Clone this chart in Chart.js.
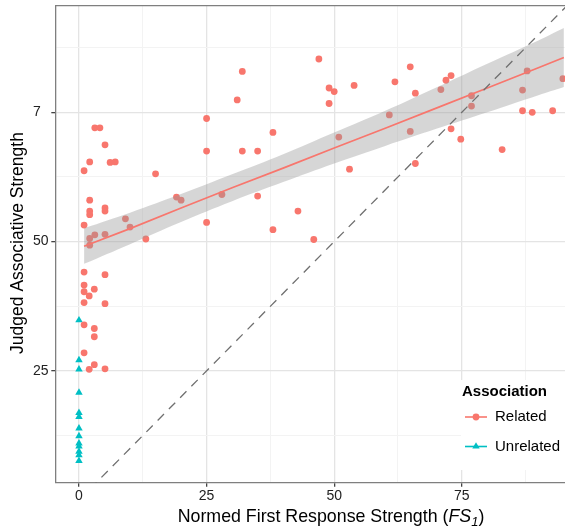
<!DOCTYPE html>
<html>
<head>
<meta charset="utf-8">
<title>Judged vs Normed Associative Strength</title>
<script src="https://cdn.jsdelivr.net/npm/chart.js"></script>
<style>
  body { margin: 0; background: #fff; }
  #chart { display: block; }
</style>
</head>
<body>
<canvas id="chart" width="565" height="529"></canvas>
<script>
// Related pairs (circles)
const relatedX = [3.1, 4.1, 5.1, 2.1, 6.1, 7.1, 1.0, 15.0, 2.1, 2.1, 2.1, 5.1, 5.1, 19.1, 20.0, 1.0, 9.1, 10.0, 2.1, 3.1,
                  5.1, 2.1, 13.1, 1.0, 5.1, 1.0, 1.0, 3.0, 2.0, 1.0, 5.1, 1.0, 3.0, 3.0, 1.0, 2.0, 3.0, 5.1,
                  47.0, 32.0, 31.0, 49.0, 50.0, 53.9, 49.0, 25.0, 38.0, 25.0, 32.0, 35.0, 50.9, 60.8, 53.0, 28.0, 35.0, 42.9, 25.0, 38.0, 46.0,
                  64.9, 61.9, 65.9, 71.9, 72.9, 70.9, 64.9, 76.9, 76.9, 72.9, 74.8, 65.9, 82.9, 87.8, 86.9, 86.9, 88.8, 92.8, 94.8];
const relatedY = [72.0, 72.0, 68.7, 65.4, 65.3, 65.4, 63.7, 63.1, 58.0, 55.9, 55.2, 56.5, 55.9, 58.6, 58.0, 53.2, 54.4, 52.8, 50.6, 51.3,
                  51.4, 49.3, 50.5, 44.1, 43.6, 41.6, 40.3, 40.8, 39.5, 38.2, 38.0, 33.9, 33.2, 31.6, 28.5, 25.3, 26.2, 25.4,
                  85.3, 82.9, 77.4, 79.7, 79.0, 80.2, 76.7, 73.8, 71.1, 67.5, 67.5, 67.5, 70.2, 74.5, 64.0, 59.1, 58.8, 55.9, 53.7, 52.3, 50.4,
                  83.8, 80.9, 78.7, 81.2, 82.1, 79.4, 71.3, 78.2, 76.2, 71.8, 69.8, 65.1, 67.8, 83.0, 79.3, 75.3, 75.0, 75.3, 81.5];

// Unrelated pairs (triangles), all at FS1 = 0
const unrelatedX = [0, 0, 0, 0, 0, 0, 0, 0, 0, 0, 0, 0, 0];
const unrelatedY = [34.8, 27.1, 25.3, 20.8, 16.9, 16.1, 13.9, 12.4, 11.0, 10.4, 9.4, 8.7, 7.6];

// linear fit with its confidence band
const fitX = [1, 10, 20, 30, 40, 50, 60, 70, 80, 90, 95];
const fitY = [49.1, 52.5, 56.5, 60.4, 64.2, 68.1, 71.9, 75.8, 79.7, 83.6, 85.6];
const bandLow = [45.7, 49.5, 53.8, 57.8, 61.5, 65.1, 68.5, 71.8, 75.0, 78.3, 79.9];
const bandHigh = [52.6, 55.6, 59.2, 63.0, 66.9, 71.1, 75.3, 79.8, 84.4, 88.9, 91.3];

// y = x reference
const refX = [0, 100];
const refY = [0, 100];

const xTicks = [0, 12.5, 25, 37.5, 50, 62.5, 75, 87.5];
const xTickLabels = ['0', '', '25', '', '50', '', '75', ''];
const yTicks = [12.5, 25, 37.5, 50, 62.5, 75, 87.5];
const yTickLabels = ['', '25', '', '50', '', '7', ''];

const RED = '#F8766D';
const CYAN = '#00BFC4';
const FONT = '"Liberation Sans", Arial, sans-serif';

const pts = (xs, ys) => xs.map((x, i) => ({ x: x, y: ys[i] }));
const isMajor = v => v % 25 === 0;

function gridOpts() {
    return {
        color: ctx => isMajor(ctx.tick.value) ? '#e4e4e4' : '#f3f3f3',
        lineWidth: ctx => isMajor(ctx.tick.value) ? 1.3 : 1,
        tickColor: ctx => isMajor(ctx.tick.value) ? '#444' : 'rgba(0,0,0,0)',
        tickLength: 4
    };
}

// frame top line, axis titles, legend
const decorPlugin = {
    id: 'decor',
    afterDraw(chart) {
        const ctx = chart.ctx;
        const a = chart.chartArea;
        ctx.save();

        ctx.strokeStyle = '#7f7f7f';
        ctx.lineWidth = 1.3;
        ctx.beginPath();
        ctx.moveTo(a.left, a.top);
        ctx.lineTo(a.right, a.top);
        ctx.stroke();

        // x title with italic FS and subscript 1
        const parts = [
            { t: 'Normed First Response Strength (', f: '17.8px ' + FONT, dy: 0 },
            { t: 'FS', f: 'italic 17.8px ' + FONT, dy: 0 },
            { t: '1', f: 'italic 13px ' + FONT, dy: 4 },
            { t: ')', f: '17.8px ' + FONT, dy: 0 }
        ];
        let total = 0;
        parts.forEach(p => { ctx.font = p.f; p.w = ctx.measureText(p.t).width; total += p.w; });
        let x = 331 - total / 2;
        ctx.fillStyle = '#000';
        ctx.textAlign = 'left';
        ctx.textBaseline = 'alphabetic';
        parts.forEach(p => { ctx.font = p.f; ctx.fillText(p.t, x, 522 + p.dy); x += p.w; });

        // y title
        ctx.save();
        ctx.translate(23, 243);
        ctx.rotate(-Math.PI / 2);
        ctx.font = '17.5px ' + FONT;
        ctx.textAlign = 'center';
        ctx.textBaseline = 'alphabetic';
        ctx.fillText('Judged Associative Strength', 0, 0);
        ctx.restore();

        // legend
        ctx.fillStyle = '#fff';
        ctx.fillRect(461, 380, a.right - 461, 90);
        ctx.fillStyle = '#000';
        ctx.font = 'bold 15px ' + FONT;
        ctx.textBaseline = 'middle';
        ctx.fillText('Association', 462, 392);
        ctx.font = '15px ' + FONT;
        ctx.fillText('Related', 495, 417);
        ctx.fillText('Unrelated', 495, 446.5);

        ctx.lineWidth = 1.6;
        ctx.strokeStyle = RED;
        ctx.beginPath(); ctx.moveTo(465, 417); ctx.lineTo(487, 417); ctx.stroke();
        ctx.fillStyle = RED;
        ctx.beginPath(); ctx.arc(476, 417, 3.4, 0, Math.PI * 2); ctx.fill();

        ctx.strokeStyle = CYAN;
        ctx.beginPath(); ctx.moveTo(465, 446.5); ctx.lineTo(487, 446.5); ctx.stroke();
        ctx.fillStyle = CYAN;
        ctx.beginPath();
        ctx.moveTo(476, 442.3); ctx.lineTo(479.7, 448.6); ctx.lineTo(472.3, 448.6);
        ctx.closePath(); ctx.fill();

        ctx.restore();
    }
};

new Chart(document.getElementById('chart'), {
    type: 'scatter',
    data: {
        datasets: [
            {
                label: 'Related',
                data: pts(relatedX, relatedY),
                pointStyle: 'circle',
                pointRadius: 3.4,
                backgroundColor: RED,
                borderWidth: 0,
                order: 3
            },
            {
                label: 'Unrelated',
                data: pts(unrelatedX, unrelatedY),
                pointStyle: 'triangle',
                pointRadius: 4.3,
                backgroundColor: CYAN,
                borderWidth: 0,
                order: 3
            },
            {
                label: 'band high',
                type: 'line',
                data: pts(fitX, bandHigh),
                borderWidth: 0,
                pointRadius: 0,
                tension: 0.4,
                fill: '+1',
                backgroundColor: 'rgba(153,153,153,0.4)',
                order: 2
            },
            {
                label: 'band low',
                type: 'line',
                data: pts(fitX, bandLow),
                borderWidth: 0,
                pointRadius: 0,
                tension: 0.4,
                fill: false,
                order: 2
            },
            {
                label: 'fit',
                type: 'line',
                data: pts(fitX, fitY),
                borderColor: RED,
                borderWidth: 1.7,
                pointRadius: 0,
                fill: false,
                order: 1
            },
            {
                label: 'y = x',
                type: 'line',
                data: pts(refX, refY),
                borderColor: '#707070',
                borderWidth: 1.3,
                borderDash: [9, 7],
                pointRadius: 0,
                fill: false,
                order: 0
            }
        ]
    },
    options: {
        responsive: false,
        animation: false,
        layout: { autoPadding: false, padding: { left: 33, top: 5.7, right: 0, bottom: 0 } },
        plugins: {
            legend: { display: false },
            tooltip: { enabled: false }
        },
        scales: {
            x: {
                type: 'linear',
                min: -4.64,
                max: 95.22,
                afterBuildTicks: s => { s.ticks = xTicks.map(v => ({ value: v })); },
                afterFit: s => { s.height = 46.3; s.paddingLeft = 0; s.paddingRight = 0; },
                ticks: {
                    padding: 1,
                    color: '#222',
                    font: { family: FONT, size: 14 },
                    callback: (v, i) => xTickLabels[i]
                },
                grid: gridOpts(),
                border: { display: true, color: '#7f7f7f', width: 1.3 }
            },
            y: {
                min: 3.38,
                max: 95.61,
                afterBuildTicks: s => { s.ticks = yTicks.map(v => ({ value: v })); },
                afterFit: s => { s.width = 22.3; s.paddingTop = 0; s.paddingBottom = 0; },
                ticks: {
                    crossAlign: 'far',
                    color: '#222',
                    font: { family: FONT, size: 14 },
                    callback: (v, i) => yTickLabels[i]
                },
                grid: gridOpts(),
                border: { display: true, color: '#7f7f7f', width: 1.3 }
            }
        }
    },
    plugins: [decorPlugin]
});
</script>
</body>
</html>
